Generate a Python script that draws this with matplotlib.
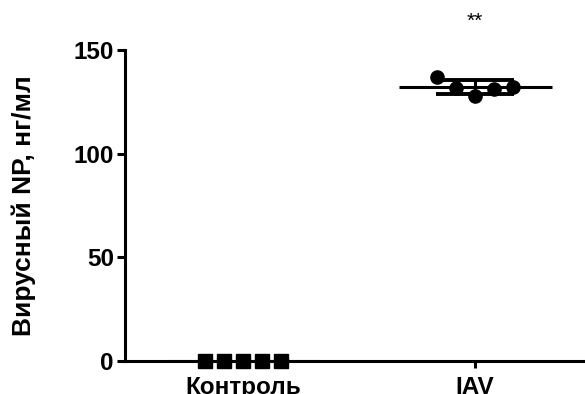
import numpy as np
import matplotlib
matplotlib.use('Agg')
import matplotlib.pyplot as plt

plt.rcParams['font.family'] = ['Liberation Sans', 'DejaVu Sans']

# data
groups = ['Контроль', 'IAV']
control = [0, 0, 0, 0, 0]
iav = [137.0, 131.6, 127.6, 131.4, 132.2]
ylabel = 'Вирусный NP, нг/мл'
star = '**'

fig = plt.figure(figsize=(5.85, 3.94), dpi=100)
ax = fig.add_axes([0.2137, 0.0838, 0.7863, 0.7893])

spread = 0.082
for i, vals in enumerate([control, iav]):
    vals = np.array(vals)
    xs = i + (np.arange(len(vals)) - (len(vals) - 1) / 2) * spread
    marker = 's' if i == 0 else 'o'
    ax.plot(xs, vals, linestyle='none', marker=marker, markersize=9.5,
            color='black', clip_on=False, zorder=3)
    m = vals.mean()
    sd = vals.std(ddof=1)
    ax.hlines(m, i - 0.33, i + 0.33, color='black', linewidth=2.2, zorder=4)
    if sd > 0:
        ax.hlines([m - sd, m + sd], i - 0.17, i + 0.17, color='black',
                  linewidth=2.8, zorder=4)
        ax.vlines(i, m - sd, m + sd, color='black', linewidth=2.2, zorder=4)

ax.text(1, 164, star, ha='center', va='center', fontsize=15)

ax.set_xlim(-0.509, 1.474)
ax.set_ylim(0, 150)
ax.set_yticks([0, 50, 100, 150])
ax.set_xticks([0, 1])
ax.set_xticklabels(groups)
ax.spines['top'].set_visible(False)
ax.spines['right'].set_visible(False)
ax.spines['left'].set_linewidth(2.2)
ax.spines['bottom'].set_linewidth(2.2)
ax.tick_params(axis='y', length=6, width=2.2, labelsize=17.5, pad=2)
ax.tick_params(axis='x', length=5, width=2.2, labelsize=17.5, pad=6)
for lab in ax.get_xticklabels() + ax.get_yticklabels():
    lab.set_fontweight('bold')
ax.set_ylabel(ylabel, fontsize=19, fontweight='bold', labelpad=27)

fig.savefig('out.png', dpi=100)
